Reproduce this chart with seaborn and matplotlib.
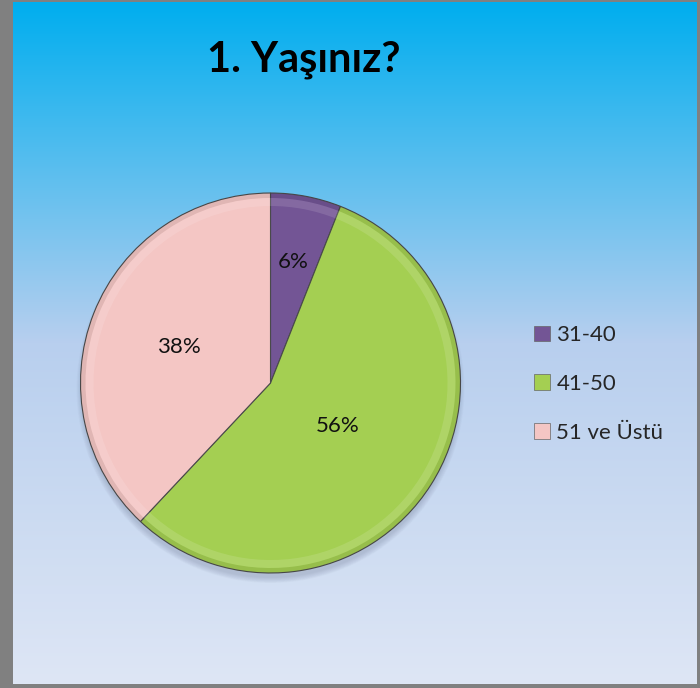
import numpy as np
import matplotlib
matplotlib.use("Agg")
import matplotlib.pyplot as plt
from matplotlib.patches import Ellipse, Wedge
import seaborn as sns

# ---- data ----
title = "1. Yaşınız?"
categories = ["31-40", "41-50", "51 ve Üstü"]
values = [6, 56, 38]
pct_labels = ["6%", "56%", "38%"]

# ---- style ----
sns.set_theme(style="white")
plt.rcParams["font.family"] = ["Lato", "DejaVu Sans"]
colors = ["#735595", "#A4CF52", "#F4C6C4"]
label_dist = [0.65, 0.42, 0.52]

W, H = 700, 688
fig = plt.figure(figsize=(W / 100, H / 100), dpi=100)
fig.patch.set_facecolor("#808080")
ax = fig.add_axes([0, 0, 1, 1])
ax.set_xlim(0, W)
ax.set_ylim(0, H)
ax.set_axis_off()

# background gradient (slide area)
x0, x1 = 13, 697
y0, y1 = H - 684, H - 2
top = np.array([0x00, 0xAE, 0xEF]) / 255
mid = np.array([0xB8, 0xCF, 0xEE]) / 255
bot = np.array([0xDE, 0xE6, 0xF5]) / 255
n = 400
t = np.linspace(0, 1, n)[:, None]
grad = np.where(t < 0.5, top + (mid - top) * (t / 0.5), mid + (bot - mid) * ((t - 0.5) / 0.5))
img = grad[:, None, :].repeat(2, axis=1)
ax.imshow(img, extent=[x0, x1, y0, y1], origin="upper", aspect="auto", zorder=0)

# pie geometry
cx, cy, r = 270.5, H - 383, 190

# soft shadow
for k in range(10):
    ax.add_patch(Ellipse((cx, cy - 6), 2 * (r + 4 - k * 0.6), 2 * (r + 4 - k * 0.6),
                         facecolor="#6a7590", alpha=0.03, edgecolor="none", zorder=1))

wedges, texts, autotexts = ax.pie(
    values, colors=colors, startangle=90, counterclock=False,
    center=(cx, cy), radius=r, autopct="%d%%", pctdistance=0.5,
    wedgeprops=dict(edgecolor="#4a4a4a", linewidth=0.8),
    textprops=dict(fontsize=16, color="#111111"),
    frame=True,
)
ax.set_xlim(0, W)
ax.set_ylim(0, H)
ax.set_axis_off()
ax.set_aspect("equal")

for w, at, lab, d in zip(wedges, autotexts, pct_labels, label_dist):
    ang = np.deg2rad((w.theta1 + w.theta2) / 2)
    at.set_position((cx + d * r * np.cos(ang), cy + d * r * np.sin(ang)))
    at.set_text(lab)
    at.set_zorder(5)

# bevel: dark outer rim + light inner band
for w in wedges:
    ax.add_patch(Wedge((cx, cy), r, w.theta1, w.theta2, width=5,
                       facecolor="black", alpha=0.08, edgecolor="none", zorder=3))
    ax.add_patch(Wedge((cx, cy), r - 5, w.theta1, w.theta2, width=8,
                       facecolor="white", alpha=0.12, edgecolor="none", zorder=3))

ax.text(304, H - 60, title, ha="center", va="center", fontsize=30,
        fontweight="bold", color="black", zorder=6)

leg = ax.legend(wedges, categories, loc="center left",
                bbox_to_anchor=(523, H - 384), bbox_transform=ax.transData,
                frameon=False, fontsize=16, handlelength=0.7, handleheight=0.7,
                handletextpad=0.3, labelspacing=1.3, borderpad=0)
for h in leg.legend_handles:
    h.set_edgecolor("#666666")
    h.set_linewidth(0.5)

fig.savefig("out.png", dpi=100, facecolor=fig.get_facecolor())
